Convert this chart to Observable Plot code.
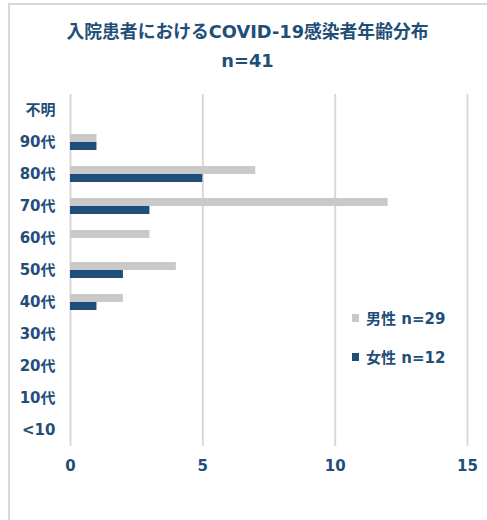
<!DOCTYPE html>
<html><head><meta charset="utf-8">
<script src="https://cdn.jsdelivr.net/npm/d3@7"></script>
<script src="https://cdn.jsdelivr.net/npm/@observablehq/plot@0.6"></script>
<style>
body{margin:0;background:#fff;font-family:"DejaVu Sans","Noto Sans CJK JP",sans-serif;}
#wrap{position:relative;width:487px;height:520px;overflow:hidden;color:#1f4e79;font-weight:bold;}
#frame{position:absolute;left:8px;top:3px;width:600px;height:600px;border-left:2px solid #d9d9d9;border-top:2px solid #d9d9d9;}
.t{position:absolute;left:8px;width:479px;text-align:center;font-size:17.8px;white-space:nowrap;}
#chart{position:absolute;left:0;top:85px;}
.leg{position:absolute;left:352px;font-size:15px;display:flex;align-items:center;white-space:nowrap;}
.sw{width:7px;height:8px;margin-right:7px;}
</style></head>
<body><div id="wrap"><div id="frame"></div>
<div class="t" style="top:17px">入院患者におけるCOVID-19感染者年齢分布</div>
<div class="t" style="top:50px">n=41</div>
<div id="chart"></div>
<div id="legend"></div>
</div>
<script>
const ages = ["不明","90代","80代","70代","60代","50代","40代","30代","20代","10代","<10"];
const male = [0,1,7,12,3,4,2,0,0,0,0];
const female = [0,1,5,3,0,2,1,0,0,0,0];
const seriesNames = ["男性 n=29","女性 n=12"];
const colors = ["#c9c9c9","#1f4e79"];
const xTicks = [0,5,10,15];

const maleRows = ages.map((a,i)=>({age:a,value:male[i]}));
const femaleRows = ages.map((a,i)=>({age:a,value:female[i]}));

const chart = Plot.plot({
  width:487, height:400,
  marginLeft:70, marginRight:20, marginTop:9, marginBottom:39,
  style:{fontFamily:'"DejaVu Sans","Noto Sans CJK JP",sans-serif', fontSize:"15px", fontWeight:"bold", color:"#1f4e79", background:"transparent"},
  x:{domain:[0,15], ticks:xTicks, tickSize:0, tickPadding:14, label:null, tickFormat:d=>d},
  y:{domain:ages, paddingInner:0.5, paddingOuter:0.25, align:0.5, tickSize:0, tickPadding:15, label:null},
  marks:[
    Plot.ruleX(xTicks,{stroke:"#d9d9d9",strokeWidth:2}),
    Plot.barX(maleRows.filter(d=>d.value>0),{x:"value",y:"age",fill:colors[0],insetBottom:8}),
    Plot.barX(femaleRows.filter(d=>d.value>0),{x:"value",y:"age",fill:colors[1],insetTop:8})
  ]
});
document.getElementById("chart").appendChild(chart);
const leg = document.getElementById("legend");
seriesNames.forEach((s,i)=>{
  const d=document.createElement("div");d.className="leg";d.style.top=(307+i*39)+"px";
  d.innerHTML=`<span class="sw" style="background:${colors[i]}"></span>${s}`;
  leg.appendChild(d);
});
</script></body></html>
